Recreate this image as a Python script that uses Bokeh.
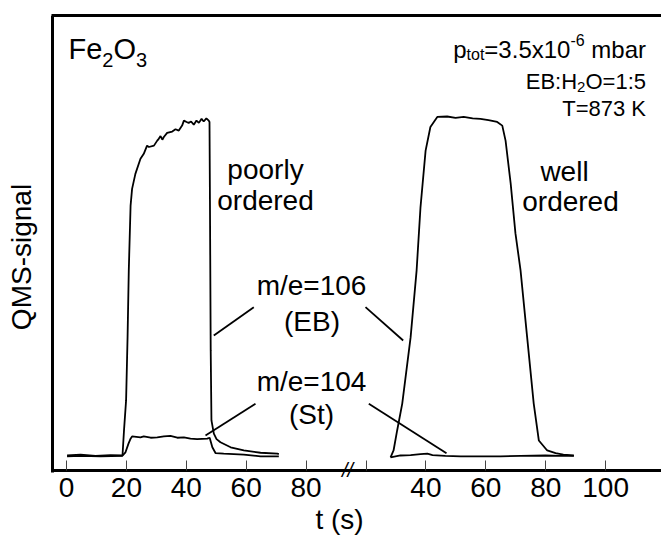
import math
from bokeh.plotting import figure
from bokeh.models import Range1d, LinearAxis, FixedTicker, Label
from bokeh.embed import file_html
from bokeh.resources import INLINE

# ---------------- data ----------------
# left panel: poorly ordered Fe2O3, time in s
eb_left_t = [0.2, 4.7, 9.7, 14.7, 18.7, 19.2, 19.9, 20.4, 20.8, 21.4, 21.9, 23.0, 24.7, 25.8,
             26.9, 27.5, 29.2, 30.3, 30.8, 31.4, 32.0, 32.5, 33.6, 35.3, 36.4, 37.5, 38.6,
             39.2, 40.1, 40.8, 41.6, 42.5, 43.4, 44.2, 45.1, 45.8, 46.7, 47.5, 47.75, 47.9,
             48.15, 48.4, 49.2, 50.1, 51.4, 54.8, 59.2, 64.8, 70.4, 70.9]
eb_left_y = [3.3, 3.5, 3.2, 3.4, 3.3, 8.8, 15.4, 29.5, 44.0, 58.2, 61.9, 65.2, 68.5, 69.6,
             71.4, 71.1, 71.4, 72.5, 72.9, 73.5, 72.7, 73.3, 74.2, 74.5, 75.0, 74.7, 75.8,
             76.9, 76.6, 76.4, 76.7, 76.0, 76.9, 76.4, 77.3, 76.7, 77.4, 76.9, 76.6, 59.3,
             26.4, 11.0, 8.1, 6.9, 6.2, 5.1, 4.4, 3.9, 3.7, 3.6]

st_left_t = [0.2, 4.7, 11.4, 18.6, 19.7, 20.7, 21.4, 21.9, 24.7, 25.8, 28.1, 30.3, 32.5,
             34.7, 37.0, 39.2, 41.4, 43.6, 47.0, 47.8, 48.7, 49.8, 52.5, 59.2, 64.8, 70.9]
st_left_y = [3.1, 3.2, 3.1, 3.2, 4.0, 5.9, 7.0, 7.5, 7.3, 7.5, 7.2, 7.3, 7.5,
             7.6, 7.2, 7.3, 7.0, 6.9, 7.0, 7.2, 5.1, 3.8, 3.7, 3.5, 3.1, 3.1]

# right panel: well ordered Fe2O3, time in s (after the axis break)
eb_right_t = [28.2, 29.2, 30.4, 32.1, 34.9, 36.9, 38.2, 39.9, 41.5, 43.8, 47.1, 49.9, 52.6,
              55.6, 58.2, 60.9, 63.8, 65.5, 66.6, 68.3, 69.9, 71.6, 73.8, 76.0, 77.7, 80.5,
              83.3, 85.9, 89.4]
eb_right_y = [2.9, 4.4, 8.8, 14.7, 29.3, 44.0, 57.9, 70.3, 75.5, 77.7, 77.8, 77.5, 77.7,
              77.4, 77.3, 77.0, 76.6, 75.8, 72.5, 63.1, 52.1, 44.0, 29.3, 14.7, 6.6, 4.4,
              3.8, 3.5, 3.3]

st_right_t = [28.2, 31.5, 34.9, 38.2, 40.5, 42.2, 46.5, 51.6, 58.2, 64.9, 71.6, 79.9, 84.9, 89.4]
st_right_y = [2.9, 3.3, 3.4, 3.6, 3.7, 3.4, 3.2, 3.1, 3.1, 3.1, 3.2, 3.3, 3.2, 3.2]

left_ticks = [0, 20, 40, 60, 80]
right_ticks = [20, 40, 60, 80, 100]
right_tick_labels = ["", "40", "60", "80", "100"]
break_offset = 80  # right panel time is drawn shifted by this much

x_title = "t (s)"
y_title = "QMS-signal"

# ---------------- geometry ----------------
W, H = 661, 536
FL, FR, FT, FB = 52.0, 661.0, 15.0, 470.0   # box drawn by the axes (pixels)
X0, X1 = -4.67, 198.66                       # data x at FL and FR
Y0, Y1 = 0.0, 100.0                          # data y at FB and FT
SX = (X1 - X0) / (FR - FL)
SY = (Y1 - Y0) / (FB - FT)
XA = X0 - FL * SX            # data x at the canvas' left edge
YA = Y0 - (H - FB) * SY      # data y at the canvas' bottom edge

p = figure(width=W, height=H, output_backend="svg", toolbar_location=None,
           x_range=Range1d(XA, X1), y_range=Range1d(YA, Y1),
           min_border_left=0, min_border_right=0, min_border_top=int(FT),
           min_border_bottom=0)
p.outline_line_color = None
p.grid.visible = False
p.background_fill_color = "white"
p.border_fill_color = "white"

FONT = "Liberation Sans"
LWA = 3
ex = LWA / 2 * SX
ey = LWA / 2 * SY

ticks = left_ticks + [t + break_offset for t in right_ticks]
overrides = {t: str(t) for t in left_ticks}
for t, lab_ in zip(right_ticks, right_tick_labels):
    overrides[t + break_offset] = lab_

xa = p.xaxis[0]
xa.fixed_location = Y0
xa.bounds = (X0 - ex, X1)
xa.ticker = FixedTicker(ticks=ticks)
xa.major_label_overrides = overrides
xa.axis_line_width = LWA
xa.axis_line_color = "black"
xa.major_tick_in = 10
xa.major_tick_out = 0
xa.major_tick_line_color = "#444444"
xa.major_tick_line_width = 1
xa.minor_tick_line_color = None
xa.major_label_text_font = FONT
xa.major_label_text_font_size = "28px"
xa.major_label_text_color = "black"
xa.major_label_standoff = 7

ya = p.yaxis[0]
ya.fixed_location = X0
ya.bounds = (Y0 - ey, Y1 + ey)
ya.ticker = FixedTicker(ticks=[])
ya.axis_line_width = LWA
ya.axis_line_color = "black"
ya.major_tick_out = 0
ya.major_tick_in = 0
ya.minor_tick_line_color = None
ya.major_label_text_font_size = "0px"

top = LinearAxis(ticker=FixedTicker(ticks=[]), axis_line_width=LWA, axis_line_color="black",
                 bounds=(X0 - ex, X1),
                 major_tick_out=0, major_tick_in=0, minor_tick_line_color=None,
                 major_label_text_font_size="0px")
p.add_layout(top, "above")

# curves
LW = 1.8
p.line(eb_left_t, eb_left_y, line_color="black", line_width=LW)
p.line(st_left_t, st_left_y, line_color="black", line_width=LW)
p.line([t + break_offset for t in eb_right_t], eb_right_y, line_color="black", line_width=LW)
p.line([t + break_offset for t in st_right_t], st_right_y, line_color="black", line_width=LW)


def px2x(px):
    return X0 + (px - FL) * SX


def py2y(py):
    return Y0 + (FB - py) * SY


DY = 8  # text is drawn this many px lower than its requested baseline


def lab(px, py, text, size, align="left", style="normal", angle=0.0):
    if angle:
        x, y = px2x(px - DY), py2y(py)
    else:
        x, y = px2x(px), py2y(py - DY)
    p.add_layout(Label(x=x, y=y, text=text, text_font=FONT,
                       text_font_size=f"{size}px", text_align=align,
                       text_baseline="alphabetic", text_font_style=style,
                       text_color="black", angle=angle))


# Arial-compatible advance widths (per em) to chain sub/superscript pieces
ADV = {"p": .556, "t": .278, "o": .556, "=": .584, "3": .556, ".": .278, "5": .556,
       "x": .5, "1": .556, "0": .556, "-": .333, "6": .556, " ": .278, "m": .833,
       "b": .556, "a": .556, "r": .333, "E": .667, "B": .667, ":": .278, "H": .722,
       "2": .556, "O": .778}


def width(s, size):
    return sum(ADV[c] for c in s) * size


def right_chain(x_right, pieces):
    """pieces: (text, size, baseline, gap_after) laid out so the last ends at x_right"""
    x = x_right
    for text, size, base, gap in reversed(pieces):
        x -= gap
        lab(x, base, text, size, align="right")
        x -= width(text, size)


# leader lines
leaders = [((253.3, 306.7), (213.3, 335.0)),
           ((365.0, 306.7), (402.7, 340.0)),
           ((255.0, 403.3), (205.0, 435.0)),
           ((368.3, 403.3), (446.0, 452.7))]
p.segment(x0=[px2x(a[0]) for a, b in leaders], y0=[py2y(a[1]) for a, b in leaders],
          x1=[px2x(b[0]) for a, b in leaders], y1=[py2y(b[1]) for a, b in leaders],
          line_color="black", line_width=1.8)

# Fe2O3
lab(68, 56.7, "Fe", 29)
lab(101.8, 67.5, "2", 20)
lab(112.9, 56.7, "O", 29)
lab(135.5, 67.5, "3", 20)

# conditions, top right (right aligned block)
RIGHT = 645.5
SPACE = width(" ", 24)
right_chain(RIGHT, [("p", 24, 57, 0), ("tot", 16, 62, 0), ("=3.5x10", 24, 57, 0),
                    ("-6", 16, 47, SPACE), ("mbar", 24, 57, 0)])
right_chain(RIGHT, [("EB:H", 22, 89, 0), ("2", 15, 94, 0), ("O=1:5", 22, 89, 0)])
lab(RIGHT, 116, "T=873 K", 22, align="right")

# curve labels
lab(265, 177, "poorly", 28, align="center")
lab(265, 208, "ordered", 28, align="center")
lab(564, 179, "well", 28, align="center")
lab(570, 209, "ordered", 28, align="center")
lab(311, 293, "m/e=106", 28, align="center")
lab(311.5, 329, "(EB)", 28, align="center")
lab(311, 389, "m/e=104", 28, align="center")
lab(311, 422, "(St)", 28, align="center")

# axis break mark and axis titles
lab(347, 477, "//", 20, align="center", style="italic")
lab(339, 527, x_title, 28, align="center")
lab(29, 256.5, y_title, 28, align="center", angle=math.pi / 2)

open("out.html", "w").write(file_html(p, INLINE))
